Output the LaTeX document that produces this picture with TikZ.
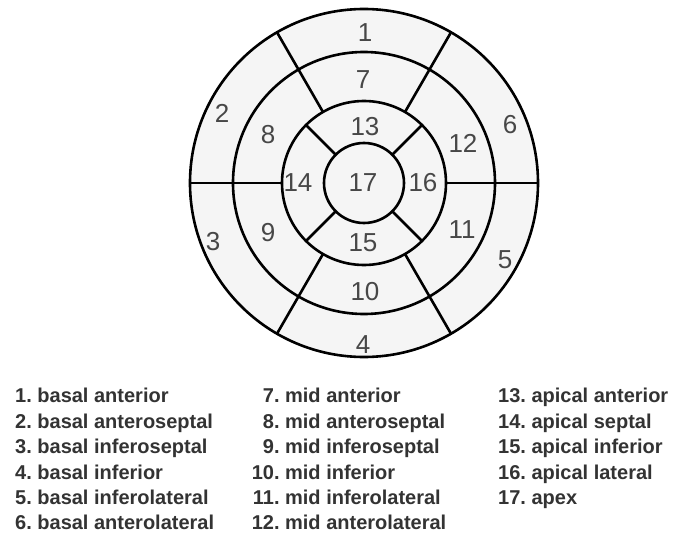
\documentclass[tikz,border=0pt]{standalone}
\usepackage{fontspec}
\setmainfont{Liberation Sans}
\usetikzlibrary{positioning}
\tikzset{
  ring/.style={draw, circle, line width=2.6pt, inner sep=0pt, outer sep=0pt, minimum size=#1},
  wall/.style={line width=2.6pt},
  segnum/.style={text=black!72, inner sep=0pt, font=\fontsize{26}{26}\selectfont},
  legend/.style={anchor=base west, inner sep=0pt, text=black!80, font=\fontsize{20}{20}\selectfont\bfseries}
}
\newcommand{\midnum}[1]{\makebox[26.4pt][r]{#1.}}

\begin{document}
\frenchspacing
\begin{tikzpicture}[x=1pt, y=1pt]
      \useasboundingbox (-364,-350) rectangle (313,183);
      \fill[white] (-364,-350) rectangle (313,183);
      \fill[black!4] (0,0) circle (174);
      % rings
      \node[ring=348pt] (basal) at (0,0) {};
      \node[ring=262pt] (mid) at (0,0) {};
      \node[ring=164pt] (apical) at (0,0) {};
      \node[ring=80pt] (apex) at (0,0) {};
      % segment borders
      \draw[wall] (apical.east) -- (basal.east);
      \draw[wall] (apical.west) -- (basal.west);
      \draw[wall] (apical.60) -- (basal.60);
      \draw[wall] (apical.120) -- (basal.120);
      \draw[wall] (apical.240) -- (basal.240);
      \draw[wall] (apical.300) -- (basal.300);
      \draw[wall] (apex.45) -- (apical.45);
      \draw[wall] (apex.135) -- (apical.135);
      \draw[wall] (apex.225) -- (apical.225);
      \draw[wall] (apex.315) -- (apical.315);
      % segment numbers
      \node[segnum] (n1) at (1,150) {1};
      \node[segnum] (n2) at (-142,70) {2};
      \node[segnum] (n3) at (-151,-59) {3};
      \node[segnum] (n4) at (-1,-162) {4};
      \node[segnum] (n5) at (141,-77) {5};
      \node[segnum] (n6) at (146,58) {6};
      \node[segnum] (n7) at (-1,103) {7};
      \node[segnum] (n8) at (-96,48) {8};
      \node[segnum] (n9) at (-96,-50) {9};
      \node[segnum] (n10) at (1,-109) {10};
      \node[segnum] (n11) at (98,-47) {11};
      \node[segnum] (n12) at (99,40) {12};
      \node[segnum] (n13) at (1,56) {13};
      \node[segnum] (n14) at (-66,0) {14};
      \node[segnum] (n15) at (-1,-60) {15};
      \node[segnum] (n16) at (59,0) {16};
      \node[segnum] (n17) at (-1,0) {17};
      % legend
      \node[legend] (l1) at (-349,-219) {1. basal anterior};
      \node[legend] (l2) at (-349,-245) {2. basal anteroseptal};
      \node[legend] (l3) at (-349,-270) {3. basal inferoseptal};
      \node[legend] (l4) at (-349,-296) {4. basal inferior};
      \node[legend] (l5) at (-349,-321) {5. basal inferolateral};
      \node[legend] (l6) at (-349,-346) {6. basal anterolateral};
      \node[legend] (l7) at (-111,-219) {\midnum{7} mid anterior};
      \node[legend] (l8) at (-111,-245) {\midnum{8} mid anteroseptal};
      \node[legend] (l9) at (-111,-270) {\midnum{9} mid inferoseptal};
      \node[legend] (l10) at (-111,-296) {\midnum{10} mid inferior};
      \node[legend] (l11) at (-111,-321) {\midnum{11} mid inferolateral};
      \node[legend] (l12) at (-111,-346) {\midnum{12} mid anterolateral};
      \node[legend] (l13) at (134,-219) {13. apical anterior};
      \node[legend] (l14) at (134,-245) {14. apical septal};
      \node[legend] (l15) at (134,-270) {15. apical inferior};
      \node[legend] (l16) at (134,-296) {16. apical lateral};
      \node[legend] (l17) at (134,-321) {17. apex};
    \end{tikzpicture}
\end{document}
